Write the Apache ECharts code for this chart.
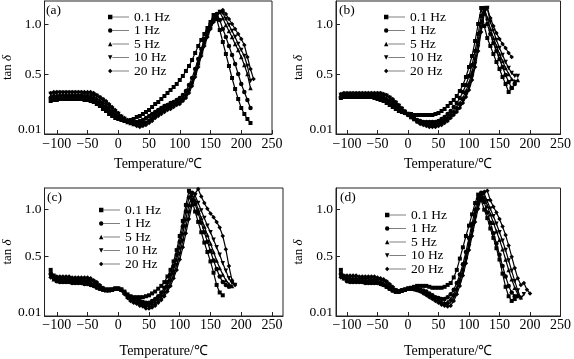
<!DOCTYPE html>
<html><head><meta charset="utf-8">
<script src="https://cdn.jsdelivr.net/npm/echarts@6/dist/echarts.min.js"></script>
<style>html,body{margin:0;padding:0;background:#fff}#c{width:574px;height:359px}</style>
</head><body><div id="c"></div>
<script>
// Temperature grid (°C)
const temps = [-110,-105,-100,-95,-90,-85,-80,-75,-70,-65,-60,-55,-50,-45,-40,-35,-30,-25,-20,-15,-10,-5,0,5,10,15,20,25,30,35,40,45,50,55,60,65,70,75,80,85,90,95,100,105,110,115,120,125,130,135,140,145,150,155,160,165,170,175,180,185,190,195,200,205,210,215,220];
const freqNames = ['0.1 Hz','1 Hz','5 Hz','10 Hz','20 Hz'];
const panelLabels = ['(a)','(b)','(c)','(d)'];
const xTickValues = [-100,-50,0,50,100,150,200,250];
const yTickLabels = ['0.01','0.5','1.0'];

// Panel (a)
const a01 = [0.23,0.24,0.24,0.25,0.25,0.25,0.25,0.25,0.25,0.25,0.25,0.24,0.24, 0.23,0.22,0.20,0.18,0.15,0.13,0.10,0.08,0.06, 0.05,0.04,0.03,0.03,0.04,0.05,0.07,0.08,0.10, 0.12,0.14,0.17,0.20,0.22,0.25,0.28,0.31,0.34, 0.37,0.40,0.44,0.48,0.53,0.58,0.64,0.71,0.78, 0.84,0.90,0.96,1.02,1.09,1.05,0.94,0.82,0.70, 0.58,0.46,0.35,0.25,0.16,0.10,0.05,0.01];
const a1 = [0.26,0.27,0.27,0.28,0.28,0.28,0.28,0.28,0.28,0.28,0.28,0.27,0.27, 0.26,0.25,0.23,0.21,0.18,0.16,0.13,0.11,0.09, 0.07,0.05,0.04,0.03,0.02,0.02,0.02,0.03,0.04, 0.06,0.08,0.10,0.12,0.14,0.16,0.18,0.19,0.21, 0.22,0.24,0.26,0.29,0.33,0.39,0.46,0.55,0.65, 0.75,0.85,0.93,1.00,1.06,1.10,1.04,0.95,0.87, 0.78,0.69,0.60,0.50,0.40,0.32,0.24,0.16];
const a5 = [0.28,0.29,0.29,0.29,0.29,0.29,0.29,0.29,0.29,0.29,0.29,0.29,0.29, 0.29,0.28,0.26,0.24,0.22,0.19,0.16,0.13,0.10, 0.08,0.06,0.04,0.02,0.01,0.00,0.00,0.00,0.01, 0.02,0.04,0.07,0.09,0.11,0.13,0.15,0.17,0.18, 0.20,0.21,0.23,0.26,0.30,0.35,0.42,0.51,0.61, 0.72,0.82,0.91,0.98,1.04,1.09,1.12,1.06,0.99, 0.93,0.87,0.80,0.74,0.67,0.59,0.50,0.36];
const a10 = [0.30,0.30,0.31,0.31,0.31,0.31,0.31,0.31,0.31,0.31,0.31,0.30,0.30, 0.30,0.29,0.28,0.26,0.24,0.21,0.18,0.15,0.12, 0.10,0.07,0.05,0.03,0.02,0.00,-0.01,-0.01,0.00, 0.01,0.03,0.05,0.08,0.10,0.12,0.14,0.16,0.17, 0.19,0.20,0.22,0.24,0.28,0.33,0.40,0.49,0.59, 0.70,0.80,0.89,0.97,1.03,1.08,1.12,1.11,1.05, 0.99,0.93,0.87,0.80,0.74,0.68,0.58,0.43];
const a20 = [0.31,0.32,0.32,0.32,0.32,0.32,0.32,0.32,0.32,0.32,0.32,0.32,0.32, 0.32,0.31,0.29,0.27,0.25,0.23,0.20,0.17,0.14, 0.11,0.08,0.06,0.04,0.02,0.00,-0.02,-0.03,-0.02, -0.01,0.01,0.03,0.06,0.08,0.10,0.12,0.14,0.15, 0.17,0.19,0.20,0.23,0.26,0.31,0.38,0.47,0.57, 0.68,0.78,0.87,0.95,1.02,1.08,1.12,1.14,1.10, 1.05,1.00,0.95,0.90,0.85,0.79,0.67,0.55,0.45];

// Panel (b)
const b01 = [0.26,0.27,0.27,0.27,0.27,0.27,0.27,0.27,0.27,0.27,0.27,0.26,0.25, 0.24,0.23,0.21,0.19,0.17,0.15,0.13,0.12,0.11, 0.10,0.10,0.09,0.09,0.09,0.09,0.09,0.09,0.09, 0.10,0.11,0.13,0.15,0.18,0.21,0.24,0.28,0.33, 0.39,0.47,0.57,0.68,0.83,1.00,1.16,0.98,0.86, 0.78,0.70,0.62,0.55,0.47,0.40,0.32,0.36];
const b1 = [0.27,0.28,0.28,0.28,0.28,0.28,0.28,0.28,0.28,0.28,0.28,0.28,0.28, 0.27,0.25,0.24,0.22,0.20,0.18,0.15,0.13,0.11, 0.09,0.07,0.05,0.04,0.03,0.02,0.02,0.02,0.02, 0.02,0.03,0.05,0.07,0.10,0.13,0.17,0.21,0.26, 0.32,0.39,0.48,0.59,0.73,0.90,1.08,1.16,1.00, 0.90,0.81,0.73,0.65,0.57,0.49,0.42,0.36,0.40];
const b5 = [0.28,0.29,0.29,0.29,0.29,0.29,0.29,0.29,0.29,0.29,0.29,0.29,0.29, 0.29,0.28,0.26,0.24,0.22,0.20,0.17,0.14,0.12, 0.10,0.07,0.05,0.03,0.02,0.01,0.00,0.00,0.00, 0.00,0.01,0.02,0.04,0.07,0.10,0.13,0.17,0.21, 0.26,0.33,0.41,0.52,0.66,0.83,1.02,1.16,1.06, 0.95,0.86,0.78,0.70,0.63,0.56,0.50,0.45,0.43,0.44];
const b10 = [0.29,0.30,0.30,0.30,0.30,0.30,0.30,0.30,0.30,0.30,0.30,0.30,0.30, 0.30,0.29,0.28,0.26,0.23,0.21,0.18,0.15,0.12, 0.10,0.07,0.05,0.03,0.01,0.00,-0.01,-0.01,-0.01, -0.01,0.00,0.01,0.03,0.05,0.08,0.11,0.14,0.18, 0.23,0.29,0.37,0.47,0.60,0.77,0.96,1.13,1.16, 1.02,0.93,0.84,0.76,0.69,0.62,0.56,0.51,0.48,0.48];
const b20 = [0.30,0.31,0.31,0.31,0.31,0.31,0.31,0.31,0.31,0.31,0.31,0.31,0.31, 0.31,0.30,0.29,0.27,0.25,0.22,0.19,0.16,0.13, 0.10,0.07,0.05,0.02,0.00,-0.01,-0.02,-0.03,-0.03, -0.03,-0.02,-0.01,0.01,0.03,0.06,0.09,0.12,0.16, 0.21,0.27,0.34,0.44,0.57,0.73,0.92,1.10,1.16, 1.06,0.98,0.91,0.85,0.80,0.76,0.71,0.67];

// Panel (c)
const c01 = [0.36,0.30,0.27,0.26,0.26,0.26,0.25,0.25,0.25,0.24,0.24,0.23,0.23, 0.22,0.20,0.18,0.16,0.15,0.14,0.14,0.15,0.16, 0.16,0.15,0.13,0.10,0.08,0.07,0.07,0.07,0.07, 0.08,0.09,0.11,0.13,0.16,0.19,0.23,0.29,0.36, 0.45,0.57,0.72,0.88,1.05,1.20,1.10,0.98,0.87, 0.76,0.65,0.55,0.45,0.33,0.20,0.12,0.09];
const c1 = [0.32,0.27,0.24,0.23,0.23,0.23,0.23,0.22,0.22,0.22,0.22,0.21,0.21, 0.20,0.19,0.17,0.16,0.15,0.15,0.15,0.15,0.16, 0.16,0.15,0.12,0.09,0.06,0.05,0.04,0.03,0.02, 0.01,0.01,0.03,0.05,0.08,0.12,0.17,0.23,0.31, 0.40,0.52,0.66,0.82,0.98,1.13,1.18,1.06,0.96, 0.86,0.76,0.66,0.56,0.46,0.37,0.29,0.23,0.20,0.18];
const c5 = [0.30,0.26,0.25,0.25,0.24,0.24,0.24,0.24,0.24,0.24,0.23,0.23,0.23, 0.22,0.21,0.19,0.17,0.16,0.15,0.15,0.15,0.16, 0.16,0.15,0.12,0.08,0.05,0.03,0.02,0.01,0.00, -0.01,-0.01,0.01,0.03,0.06,0.10,0.14,0.20,0.27, 0.36,0.47,0.60,0.75,0.90,1.05,1.15,1.10,1.00, 0.91,0.82,0.73,0.64,0.55,0.46,0.38,0.31,0.25,0.21,0.19];
const c10 = [0.29,0.27,0.27,0.26,0.26,0.26,0.26,0.26,0.26,0.26,0.25,0.25,0.25, 0.24,0.23,0.21,0.18,0.16,0.15,0.15,0.15,0.16, 0.16,0.15,0.11,0.07,0.04,0.02,0.01,0.00,-0.02, -0.03,-0.03,-0.02,0.00,0.03,0.07,0.11,0.16,0.23, 0.31,0.41,0.53,0.67,0.82,0.97,1.10,1.15,1.07, 0.99,0.91,0.83,0.76,0.68,0.60,0.52,0.43,0.35,0.27,0.22,0.20];
const c20 = [0.28,0.29,0.29,0.29,0.29,0.29,0.29,0.28,0.28,0.28,0.28,0.28,0.28, 0.27,0.25,0.23,0.20,0.17,0.15,0.15,0.15,0.16, 0.16,0.14,0.10,0.06,0.03,0.01,0.00,-0.02,-0.03, -0.05,-0.05,-0.04,-0.02,0.01,0.04,0.08,0.13,0.19, 0.27,0.36,0.47,0.60,0.75,0.90,1.05,1.17,1.22, 1.14,1.07,1.01,0.96,0.92,0.87,0.81,0.72,0.58,0.40,0.25,0.20];

// Panel (d)
const d01 = [0.36,0.29,0.26,0.25,0.25,0.24,0.24,0.24,0.24,0.24,0.24,0.24,0.23, 0.22,0.20,0.18,0.16,0.14,0.13,0.13,0.14,0.15, 0.16,0.17,0.18,0.19,0.19,0.19,0.19,0.18,0.17, 0.17,0.17,0.17,0.18,0.20,0.22,0.28,0.36,0.48, 0.60,0.72,0.83,0.95,1.07,1.16,1.10,1.00,0.91, 0.80,0.70,0.59,0.47,0.32,0.18,0.08,0.03,0.05];
const d1 = [0.32,0.27,0.24,0.23,0.23,0.23,0.23,0.23,0.22,0.22,0.22,0.22,0.22, 0.21,0.20,0.18,0.16,0.14,0.13,0.13,0.14,0.15, 0.16,0.16,0.16,0.16,0.15,0.14,0.13,0.11,0.09, 0.07,0.06,0.05,0.05,0.07,0.10,0.15,0.22,0.31, 0.42,0.55,0.70,0.85,1.00,1.12,1.18,1.08,0.97, 0.86,0.75,0.64,0.52,0.40,0.29,0.19,0.12,0.08,0.08];
const d5 = [0.30,0.27,0.26,0.25,0.25,0.25,0.25,0.25,0.25,0.24,0.24,0.24,0.24, 0.23,0.22,0.20,0.17,0.15,0.13,0.13,0.14,0.15, 0.16,0.16,0.16,0.15,0.14,0.13,0.11,0.09,0.07, 0.05,0.03,0.02,0.01,0.02,0.05,0.10,0.17,0.26, 0.37,0.50,0.65,0.80,0.95,1.08,1.17,1.13,1.04, 0.95,0.86,0.77,0.68,0.58,0.47,0.36,0.26,0.17,0.10,0.07];
const d10 = [0.29,0.28,0.28,0.27,0.27,0.27,0.27,0.27,0.27,0.27,0.26,0.26,0.26, 0.25,0.24,0.22,0.19,0.16,0.14,0.13,0.14,0.15, 0.16,0.16,0.16,0.15,0.13,0.12,0.10,0.08,0.06, 0.04,0.02,0.00,-0.01,-0.01,0.02,0.07,0.14,0.23, 0.34,0.47,0.61,0.76,0.91,1.05,1.15,1.17,1.09, 1.01,0.93,0.85,0.76,0.67,0.57,0.46,0.35,0.24,0.14,0.06,0.10];
const d20 = [0.28,0.30,0.30,0.30,0.30,0.30,0.29,0.29,0.29,0.29,0.29,0.29,0.28, 0.27,0.26,0.24,0.21,0.18,0.15,0.13,0.14,0.15, 0.16,0.16,0.15,0.14,0.13,0.11,0.09,0.07,0.05, 0.03,0.01,-0.01,-0.02,-0.03,-0.02,0.03,0.10,0.19, 0.30,0.43,0.57,0.72,0.87,1.01,1.12,1.19,1.20, 1.10,1.03,0.97,0.90,0.82,0.73,0.62,0.50,0.38,0.27,0.20,0.22,0.15,0.11];

const panelData = [[a01,a1,a5,a10,a20],[b01,b1,b5,b10,b20],[c01,c1,c5,c10,c20],[d01,d1,d5,d10,d20]];

// ---- layout / style ----
const FONT = 'Liberation Serif';
const grids = [
  {left:43, top:1, width:229, height:133},
  {left:336, top:1, width:228, height:133},
  {left:43, top:188, width:240, height:133},
  {left:336, top:188, width:228, height:133}
];
const xRanges = [[-120,250],[-118,250],[-120,268],[-118,250]];
const yRanges = [[-0.10,1.23],[-0.10,1.23],[-0.13,1.23],[-0.13,1.23]];
const yLowLabelPos = [-0.055,-0.055,-0.095,-0.095];
const yNameGap = [24,31,26,30];
const xNameGap = [23,23,28,28];
const xLabelMargin = [3,3,2.5,2.5];
const legendPos = [
  {left:108, top:10},{left:384, top:10},{left:99, top:203},{left:385, top:208}
];
const labelPos = [{left:46,top:3},{left:339,top:3},{left:47,top:190},{left:340,top:190}];
const symbols = ['rect','circle','triangle','triangle','diamond'];
const rotations = [0,0,0,180,0];
const icons = [
  'path://M0,0.5H5V5.5H0Z M5,2.6H24V3.4H5Z',
  'path://M0,3A2.5,2.5 0 1 1 5,3A2.5,2.5 0 1 1 0,3Z M5,2.6H24V3.4H5Z',
  'path://M0,5.5L2.5,0.5L5,5.5Z M5,2.6H24V3.4H5Z',
  'path://M0,0.5L5,0.5L2.5,5.5Z M5,2.6H24V3.4H5Z',
  'path://M2.5,0.5L5,3L2.5,5.5L0,3Z M5,2.6H24V3.4H5Z'
];
const minusFmt = v => (v < 0 ? '\u2212' + (-v) : '' + v);

const option = {
  animation: false,
  backgroundColor: '#fff',
  grid: grids.map(g => Object.assign({show:true, borderColor:'#222', borderWidth:1, backgroundColor:'transparent'}, g)),
  xAxis: grids.map((g,i) => ({
    type:'value', gridIndex:i, min:xRanges[i][0], max:xRanges[i][1],
    name:'Temperature/\u2103', nameLocation:'middle', nameGap:xNameGap[i],
    nameTextStyle:{fontFamily:FONT, fontSize:14, color:'#000'},
    axisLine:{show:true, onZero:false, lineStyle:{color:'#222', width:1}},
    axisTick:{show:true, inside:true, length:4, customValues:xTickValues, lineStyle:{color:'#222'}},
    axisLabel:{customValues:xTickValues, formatter:minusFmt, fontFamily:FONT, fontSize:14, color:'#000', margin:xLabelMargin[i], showMinLabel:true, showMaxLabel:true},
    splitLine:{show:false}
  })),
  yAxis: grids.map((g,i) => ({
    type:'value', gridIndex:i, min:yRanges[i][0], max:yRanges[i][1],
    name:'tan {it|\u03b4}', nameLocation:'middle', nameGap:yNameGap[i],
    nameTextStyle:{fontFamily:FONT, fontSize:13, color:'#000', rich:{it:{fontFamily:FONT, fontSize:13, fontStyle:'italic', color:'#000'}}},
    axisLine:{show:true, onZero:false, lineStyle:{color:'#222', width:1}},
    axisTick:{show:true, inside:true, length:4, customValues:[0.5,1.0], lineStyle:{color:'#222'}},
    axisLabel:{customValues:[yLowLabelPos[i],0.5,1.0],
      formatter: v => (v < 0.2 ? yTickLabels[0] : (v < 0.75 ? yTickLabels[1] : yTickLabels[2])),
      fontFamily:FONT, fontSize:13.5, color:'#000', margin:3},
    splitLine:{show:false}
  })),
  legend: legendPos.map(p => ({
    left:p.left, top:p.top, orient:'vertical', itemWidth:21, itemHeight:5, itemGap:-0.5,
    selectedMode:false, padding:0,
    textStyle:{fontFamily:FONT, fontSize:13.5, color:'#000', lineHeight:13},
    data: freqNames.map((n,k) => ({name:n, icon:icons[k]}))
  })),
  graphic: panelLabels.map((t,i) => ({
    type:'text', left:labelPos[i].left, top:labelPos[i].top,
    style:{text:t, font:'13.5px "' + FONT + '"', fill:'#000'}
  })),
  series: []
};

panelData.forEach((set, p) => {
  set.forEach((vals, k) => {
    option.series.push({
      type:'line', name:freqNames[k], xAxisIndex:p, yAxisIndex:p,
      symbol:symbols[k], symbolRotate:rotations[k], symbolSize:k === 0 ? 4 : 4.5, showAllSymbol:true,
      lineStyle:{color:'#000', width:1.2}, itemStyle:{color:'#000'},
      data: vals.map((v,j) => [temps[j], v])
    });
  });
});

const chart = echarts.init(document.getElementById('c'), null, {renderer:'canvas'});
chart.setOption(option);
</script></body></html>
